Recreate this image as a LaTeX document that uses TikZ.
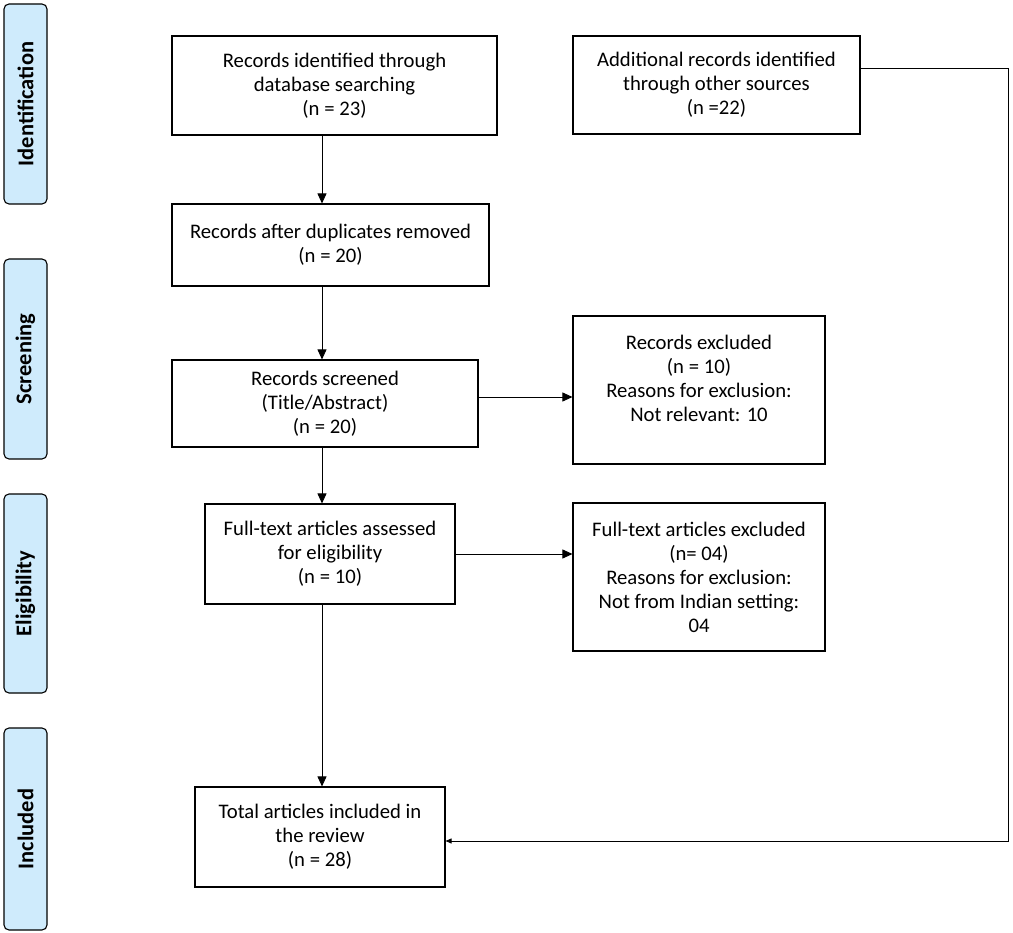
\documentclass[tikz,border=0pt]{standalone}
\usepackage{fontspec}
\setmainfont{Carlito}
\usetikzlibrary{arrows.meta}
\definecolor{sideblue}{RGB}{207,235,252}
\begin{document}
\begin{tikzpicture}[x=1pt,y=-1pt,
 box/.style={draw, line width=1.1pt, inner sep=0pt, align=center, font=\fontsize{20.7}{24}\selectfont},
 txt/.style={inner sep=0pt, align=center, font=\fontsize{20.7}{24}\selectfont},
 side/.style={draw, line width=1.1pt, rounded corners=5pt, fill=sideblue, rotate=90, inner sep=0pt, font=\fontsize{22.5}{24}\selectfont\bfseries},
 arr/.style={-{Triangle[length=10pt,width=9pt]}, line width=0.8pt},
 arrs/.style={-{Triangle[length=6pt,width=5pt]}, line width=0.8pt}]
\useasboundingbox (0,0) rectangle (1013,933);
% side labels
\node[side, minimum width=200pt, minimum height=43pt] (sid) at (25.5,104) {Identification};
\node[side, minimum width=200pt, minimum height=43pt] (sscr) at (25.5,359) {Screening};
\node[side, minimum width=199pt, minimum height=43pt] (seli) at (25.5,593.5) {Eligibility};
\node[side, minimum width=202pt, minimum height=43pt] (sinc) at (25.5,829) {Included};
% boxes
\node[box, minimum width=325pt, minimum height=99pt] (b1) at (334.5,85.5) {Records identified through\\database searching\\(n = 23)};
\node[box, minimum width=287pt, minimum height=98pt] (b2) at (716.5,85) {Additional records identified\\through other sources\\(n =22)};
\node[box, minimum width=317pt, minimum height=82pt] (b3) at (330.5,245) {Records after duplicates removed\\(n = 20)};
\node[box, minimum width=306pt, minimum height=87pt] (b4) at (325,403.5) {Records screened\\(Title/Abstract)\\(n = 20)};
\node[box, minimum width=252pt, minimum height=148pt] (b5) at (699,390) {};
\node[txt] (b5t) at (699,378) {Records excluded\\(n = 10)\\Reasons for exclusion:\\Not relevant: 10};
\node[box, minimum width=250pt, minimum height=100pt] (b6) at (330,554) {Full-text articles assessed\\for eligibility\\(n = 10)};
\node[box, minimum width=252pt, minimum height=148pt] (b7) at (699,577) {Full-text articles excluded\\(n= 04)\\Reasons for exclusion:\\Not from Indian setting:\\04};
\node[box, minimum width=250pt, minimum height=100pt] (b8) at (320,837) {Total articles included in\\the review\\(n = 28)};
% connectors
\coordinate (colx) at (322,0);
\draw[arr] (colx |- b1.south) -- (colx |- b3.north);
\draw[arr] (colx |- b3.south) -- (colx |- b4.north);
\draw[arr] (colx |- b4.south) -- (colx |- b6.north);
\draw[arr] (colx |- b6.south) -- (colx |- b8.north);
\coordinate (h1) at (0,397);
\draw[arr] (b4.east |- h1) -- (b5.west |- h1);
\draw[arr] (b6.east) -- (b7.west |- b6.east);
\coordinate (top) at (0,68);
\coordinate (rc) at (1008,841);
\draw[arrs] (b2.east |- top) -| (rc) -- (rc -| b8.east);
\end{tikzpicture}
\end{document}
